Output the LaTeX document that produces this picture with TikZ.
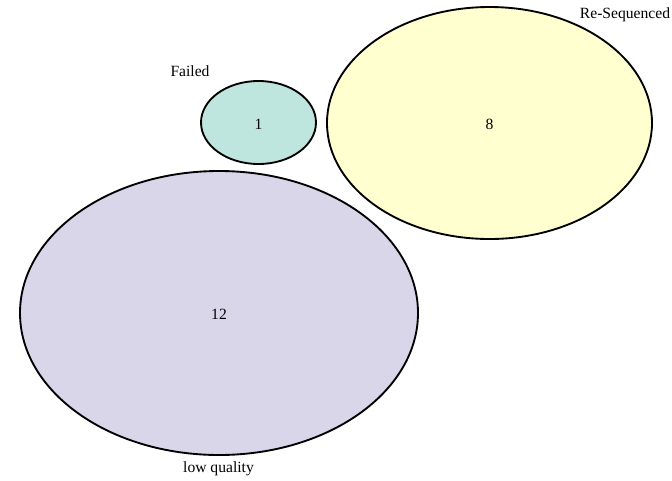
\documentclass[tikz,border=0pt]{standalone}
\usepackage{fontspec}
\setmainfont{Liberation Serif}
\usetikzlibrary{shapes.geometric}
\definecolor{failedfill}{RGB}{190,229,222}
\definecolor{reseqfill}{RGB}{255,255,208}
\definecolor{lowqfill}{RGB}{217,214,234}
\tikzset{
  setellipse/.style={draw, ellipse, line width=1.4pt, inner sep=0pt},
  setlabel/.style={font=\fontsize{11.7pt}{14pt}\selectfont, inner sep=0pt}
}
\begin{document}
\begin{tikzpicture}[x=0.75pt, y=-0.75pt]
				\useasboundingbox (0, 0) rectangle (672, 480);

				\node [setellipse, fill=lowqfill, minimum width=298.5pt, minimum height=213pt] (lowq) at (219, 313) {};
				\node [setellipse, fill=reseqfill, minimum width=243.75pt, minimum height=174pt] (reseq) at (489.5, 123) {};
				\node [setellipse, fill=failedfill, minimum width=86.25pt, minimum height=62.25pt] (failed) at (258.5, 122.5) {};

				\node [setlabel] (N1) at (258.5, 124) {1};
				\node [setlabel] (N8) at (489.5, 124) {8};
				\node [setlabel] (N12) at (219, 314) {12};

				\node [setlabel] (Lfailed) at (190, 71.5) {Failed};
				\node [setlabel] (Lreseq) at (625, 14.5) {Re-Sequenced};
				\node [setlabel] (Llowq) at (218.5, 468.5) {low quality};
\end{tikzpicture}
\end{document}
